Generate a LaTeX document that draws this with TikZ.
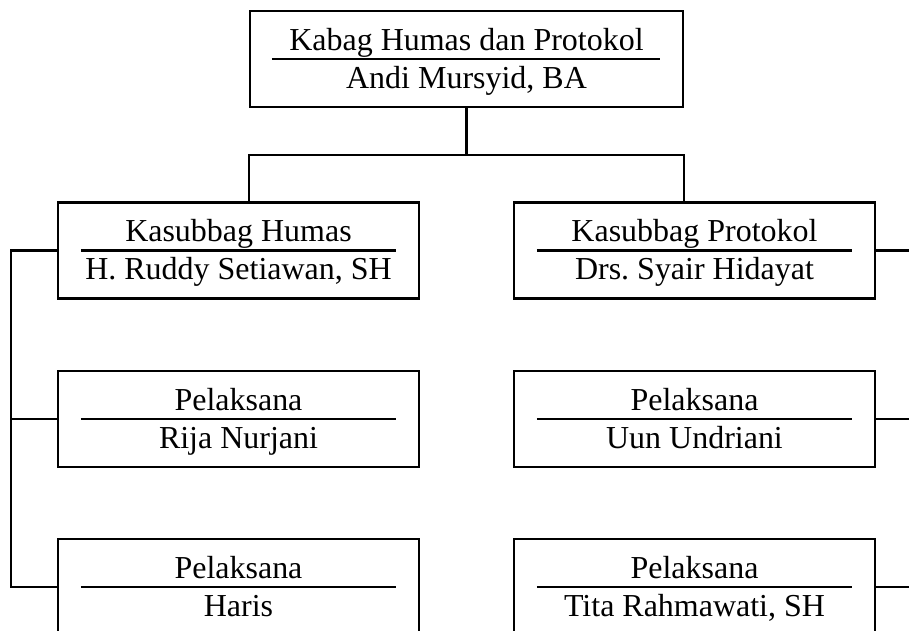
\documentclass[tikz,border=0pt]{standalone}
\usepackage{fontspec}
\setmainfont{Liberation Serif}
\usetikzlibrary{positioning}
\frenchspacing

\begin{document}
\begin{tikzpicture}[
  x=0.02cm,y=-0.02cm,line width=1.2pt,
  unit/.style={draw,rectangle,minimum width=7.22cm,minimum height=1.92cm,inner sep=0pt},
  jabatan/.style={anchor=base,yshift=0.18cm,font=\fontsize{18.2}{21}\selectfont,inner sep=0pt},
  nama/.style={anchor=base,yshift=-0.58cm,font=\fontsize{18.2}{21}\selectfont,inner sep=0pt},
]
  \useasboundingbox (0,0) rectangle (909,630);
  % kepala bagian
  \node[unit,minimum width=8.66cm] (kabag) at (466.5,59) {};
  \node[jabatan] (kabag-j) at (kabag.center) {Kabag Humas dan Protokol};
  \node[nama] (kabag-n) at (kabag.center) {Andi Mursyid, BA};
  \draw ([xshift=0.46cm]kabag.west) -- ([xshift=-0.48cm]kabag.east);
  % kasubbag
  \node[unit] (humas) at (238.5,250.5) {};
  \node[jabatan] (humas-j) at (humas.center) {Kasubbag Humas};
  \node[nama] (humas-n) at (humas.center) {H. Ruddy Setiawan, SH};
  \draw ([xshift=0.48cm]humas.west) -- ([xshift=-0.48cm]humas.east);
  \node[unit] (protokol) at (694.5,250.5) {};
  \node[jabatan] (protokol-j) at (protokol.center) {Kasubbag Protokol};
  \node[nama] (protokol-n) at (protokol.center) {Drs. Syair Hidayat};
  \draw ([xshift=0.48cm]protokol.west) -- ([xshift=-0.48cm]protokol.east);
  % pelaksana
  \node[unit] (rija) at (238.5,419) {};
  \node[jabatan] (rija-j) at (rija.center) {Pelaksana};
  \node[nama] (rija-n) at (rija.center) {Rija Nurjani};
  \draw ([xshift=0.48cm]rija.west) -- ([xshift=-0.48cm]rija.east);
  \node[unit] (uun) at (694.5,419) {};
  \node[jabatan] (uun-j) at (uun.center) {Pelaksana};
  \node[nama] (uun-n) at (uun.center) {Uun Undriani};
  \draw ([xshift=0.48cm]uun.west) -- ([xshift=-0.48cm]uun.east);
  \node[unit] (haris) at (238.5,587) {};
  \node[jabatan] (haris-j) at (haris.center) {Pelaksana};
  \node[nama] (haris-n) at (haris.center) {Haris};
  \draw ([xshift=0.48cm]haris.west) -- ([xshift=-0.48cm]haris.east);
  \node[unit] (tita) at (694.5,587) {};
  \node[jabatan] (tita-j) at (tita.center) {Pelaksana};
  \node[nama] (tita-n) at (tita.center) {Tita Rahmawati, SH};
  \draw ([xshift=0.48cm]tita.west) -- ([xshift=-0.48cm]tita.east);
  % garis
  \coordinate (bus) at (466.5,155);
  \coordinate (lbus) at (11,250.5);
  \coordinate (rbus) at (915,250.5);
  \draw (kabag.south) -- (bus);
  \draw (humas.north -| kabag.west) |- (bus) -| (protokol.north -| kabag.east);
  \draw (humas.west) -- (lbus) |- (haris.west);
  \draw (rija.west) -- (rija.west -| lbus);
  \draw (protokol.east) -- (rbus);
  \draw (uun.east) -- (uun.east -| rbus);
  \draw (tita.east) -- (tita.east -| rbus);
\end{tikzpicture}
\end{document}
